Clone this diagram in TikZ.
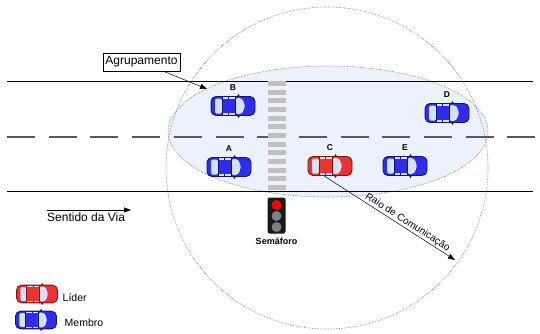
\documentclass[tikz,border=0pt]{standalone}
\usepackage{fontspec}
\setmainfont{Liberation Sans}
\usetikzlibrary{arrows.meta,positioning,shadows}
\definecolor{azulcarro}{RGB}{45,45,235}
\definecolor{azulborda}{RGB}{20,20,110}
\definecolor{vermcarro}{RGB}{238,50,50}
\definecolor{vermborda}{RGB}{125,20,20}
\definecolor{vidro}{RGB}{212,226,244}
\definecolor{grupofundo}{RGB}{236,242,251}
\definecolor{faixa}{RGB}{192,192,192}
\tikzset{
	pista/.style={black, line width=0.9pt},
	divisoria/.style={black!65, line width=1.2pt, dash pattern=on 28pt off 13.7pt},
	alcance/.style={densely dotted, black!55, line width=0.6pt},
	grupo/.style={densely dotted, draw=black!55, fill=grupofundo, line width=0.6pt},
	seta/.style={-{Triangle[length=7pt,width=5pt]}, line width=0.5pt},
	rotulo/.style={font=\fontsize{12}{14}\selectfont, inner sep=1pt},
	legenda/.style={font=\fontsize{10.5}{12}\selectfont, inner sep=1pt},
	letra/.style={font=\fontsize{8.5}{10}\selectfont\bfseries, inner sep=1pt},
	luz/.style={circle, inner sep=0pt, minimum size=10pt},
	caixa/.style={draw, fill=white, line width=0.6pt, inner sep=2.5pt, minimum height=18pt,
		drop shadow={shadow xshift=1.2pt, shadow yshift=-1.2pt, fill=black!45, opacity=1}},
	pics/carro/.style 2 args={code={
		% carroceria
		\draw[draw=#2, fill=#1, line width=0.9pt, rounded corners=5pt] (-22,-9.5) rectangle (22,9.5);
		% vidros
		\fill[vidro, rounded corners=1.5pt] (-18,-7.5) rectangle (-11,7.5);
		\fill[vidro, rounded corners=2pt] (2,-7.5) -- (8,-8.5) -- (11.5,-3) -- (11.5,3) -- (8,8.5) -- (2,7.5) -- cycle;
		\fill[vidro] (-11,-9) rectangle (2,-7.3);
		\fill[vidro] (-11,7.3) rectangle (2,9);
		% colunas
		\draw[#2, line width=0.6pt] (-11,-9.5) -- (-11,9.5) (2,-9.5) -- (2,9.5)
			(-4.5,-9.5) -- (-4.5,-7) (-4.5,7) -- (-4.5,9.5);
		% retrovisores
		\fill[#2] (4,-9.5) -- (5.5,-12) -- (7,-9.5) -- cycle;
		\fill[#2] (4,9.5) -- (5.5,12) -- (7,9.5) -- cycle;
	}}
}

\begin{document}
\begin{tikzpicture}[x=1pt,y=-1pt]
	\useasboundingbox (0,0) rectangle (540,333);
	
	%%% agrupamento
	\draw[grupo] (328,131.5) ellipse (160 and 65.5);
	
	%%% via
	\draw[pista] (7,81) -- (533,81);
	\draw[pista] (7,191) -- (533,191);
	\draw[divisoria] (7,137) -- (535,137);
	\foreach \k in {0,...,12}
		\fill[faixa] (268,{81+8.67*\k}) rectangle (286,{86+8.67*\k});
	
	%%% alcance de C
	\draw[alcance] (327,168) circle (161);
	\coordinate (raio0) at (318,172);
	\coordinate (raio1) at (455,260);
	\draw[seta] (raio0) -- node[sloped, above, pos=0.63, legenda, font=\fontsize{10}{12}\selectfont] {Raio de Comunicação} (raio1);
	
	%%% rotulo do grupo
	\node[rotulo, caixa] (agrup) at (141.5,62) {Agrupamento};
	\coordinate (borda) at (207,89);
	\draw[seta] ([xshift=22pt]agrup.south) -- (borda);
	
	%%% carros
	\coordinate (carA) at (229,167);
	\coordinate (carB) at (233,106);
	\coordinate (carC) at (330,166);
	\coordinate (carD) at (447,113);
	\coordinate (carE) at (405,166);
	\pic at (carA) {carro={azulcarro}{azulborda}};
	\pic at (carB) {carro={azulcarro}{azulborda}};
	\pic at (carC) {carro={vermcarro}{vermborda}};
	\pic at (carD) {carro={azulcarro}{azulborda}};
	\pic at (carE) {carro={azulcarro}{azulborda}};
	\node[letra, above=14pt of carA] (rotA) {A};
	\node[letra, above=14pt of carB] (rotB) {B};
	\node[letra, above=14pt of carC] (rotC) {C};
	\node[letra, above=14pt of carD] (rotD) {D};
	\node[letra, above=14pt of carE] (rotE) {E};
	
	%%% semaforo
	\node[fill=black!90, rounded corners=2pt, minimum width=18pt, minimum height=36pt] (semaforo) at (276.5,215.5) {};
	\node[luz, fill=red] (luz1) at (276.5,205) {};
	\node[luz, fill=black!50] (luz2) at (276.5,216) {};
	\node[luz, fill=black!50] (luz3) at (276.5,227) {};
	\node[letra, font=\fontsize{9}{10}\selectfont\bfseries, below=3pt of semaforo] (txtsemaforo) {Semáforo};
	
	%%% sentido
	\coordinate (sentido0) at (47,210);
	\coordinate (sentido1) at (131,210);
	\draw[seta] (sentido0) -- (sentido1);
	\node[rotulo, below right=1.5pt and -1pt of sentido0] (txtsentido) {Sentido da Via};
	
	%%% legenda
	\coordinate (legLider) at (37,294);
	\coordinate (legMembro) at (36,320);
	\pic[scale=0.93] at (legLider) {carro={vermcarro}{vermborda}};
	\pic[scale=0.93] at (legMembro) {carro={azulcarro}{azulborda}};
	\node[legenda, anchor=west] (txtlider) at (61.5,297.5) {Líder};
	\node[legenda, anchor=west] (txtmembro) at (63.5,323) {Membro};
\end{tikzpicture}
\end{document}
